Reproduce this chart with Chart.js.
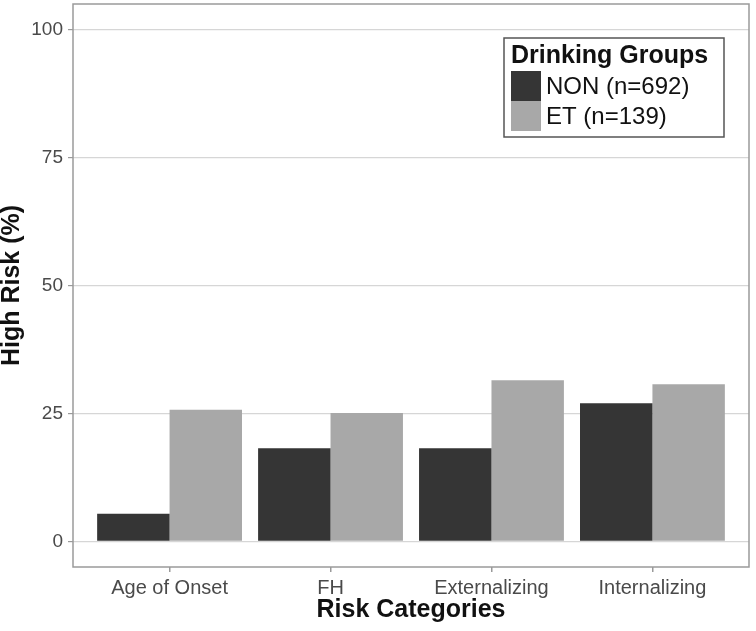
<!DOCTYPE html>
<html>
<head>
<meta charset="utf-8">
<script src="https://cdn.jsdelivr.net/npm/chart.js@4/dist/chart.umd.min.js"></script>
<style>
  html, body { margin: 0; padding: 0; background: #fff; }
  canvas { display: block; }
</style>
</head>
<body>
<canvas id="chart" width="756" height="631"></canvas>
<script>
var categories = ["Age of Onset", "FH", "Externalizing", "Internalizing"];
var groupNames = ["NON (n=692)", "ET (n=139)"];
var nonValues = [5.4, 18.2, 18.2, 27.0];
var etValues = [25.7, 25.1, 31.5, 30.7];
var yTicks = [0, 25, 50, 75, 100];

var FONT = "'Liberation Sans', Arial, Helvetica, sans-serif";

function toPoints(values) {
    return values.map(function(v, i) { return { x: i + 1, y: v }; });
}

// grey frame round the plot, like theme_bw
var frame = {
    id: "frame",
    afterDraw: function(chart) {
        var a = chart.chartArea;
        var ctx = chart.ctx;
        ctx.save();
        ctx.strokeStyle = "#9a9a9a";
        ctx.lineWidth = 1.5;
        ctx.strokeRect(a.left, a.top, a.right - a.left, a.bottom - a.top);
        ctx.restore();
    }
};

// boxed legend inside the plot, top right
var boxLegend = {
    id: "boxLegend",
    afterDraw: function(chart) {
        var ctx = chart.ctx;
        var x = 504, y = 38, w = 220, h = 99;
        ctx.save();
        ctx.fillStyle = "#fff";
        ctx.fillRect(x, y, w, h);
        ctx.strokeStyle = "#555";
        ctx.lineWidth = 1.5;
        ctx.strokeRect(x, y, w, h);

        ctx.fillStyle = "#111";
        ctx.textBaseline = "middle";
        ctx.textAlign = "left";
        ctx.font = "bold 25px " + FONT;
        ctx.fillText("Drinking Groups", 511, 56);

        ctx.font = "24px " + FONT;
        chart.data.datasets.forEach(function(ds, i) {
            var sy = 71 + i * 30;
            ctx.fillStyle = ds.backgroundColor;
            ctx.fillRect(511, sy, 30, 30);
            ctx.fillStyle = "#111";
            ctx.fillText(ds.label, 546, sy + 16);
        });
        ctx.restore();
    }
};

var ctx = document.getElementById("chart").getContext("2d");
var chart = new Chart(ctx, {
    type: "bar",
    data: {
        datasets: [{
            label: groupNames[0],
            data: toPoints(nonValues),
            backgroundColor: "#353535"
        }, {
            label: groupNames[1],
            data: toPoints(etValues),
            backgroundColor: "#a8a8a8"
        }]
    },
    options: {
        responsive: false,
        animation: false,
        layout: { padding: { top: 4, right: 7, left: 0, bottom: 0 } },
        datasets: {
            bar: { barPercentage: 1.0, categoryPercentage: 0.9, borderWidth: 0 }
        },
        plugins: {
            legend: { display: false },
            tooltip: { enabled: false }
        },
        scales: {
            x: {
                type: "linear",
                min: 0.4,
                max: 4.6,
                offset: false,
                afterBuildTicks: function(scale) {
                    scale.ticks = categories.map(function(c, i) { return { value: i + 1 }; });
                },
                afterFit: function(scale) {
                    scale.height = 64;
                    scale.paddingLeft = 0;
                    scale.paddingRight = 0;
                },
                grid: {
                    offset: false,
                    drawOnChartArea: false,
                    tickLength: 5,
                    tickColor: "#9a9a9a",
                    lineWidth: 1.5
                },
                border: { display: false },
                ticks: {
                    padding: 4,
                    color: "#4a4a4a",
                    font: { family: FONT, size: 20 },
                    maxRotation: 0,
                    autoSkip: false,
                    callback: function(value) { return categories[value - 1]; }
                },
                title: {
                    display: true,
                    text: "Risk Categories",
                    color: "#111",
                    font: { family: FONT, size: 25, weight: "bold", lineHeight: 1.0 },
                    padding: { top: 0, bottom: 8 }
                }
            },
            y: {
                min: -5,
                max: 105,
                afterBuildTicks: function(scale) {
                    scale.ticks = yTicks.map(function(v) { return { value: v }; });
                },
                afterFit: function(scale) {
                    scale.width = 73;
                    scale.paddingTop = 0;
                    scale.paddingBottom = 0;
                },
                grid: {
                    color: "#d6d6d6",
                    lineWidth: 1.2,
                    tickLength: 5,
                    tickColor: "#9a9a9a"
                },
                border: { display: false },
                ticks: {
                    padding: 5,
                    color: "#4a4a4a",
                    font: { family: FONT, size: 19 }
                },
                title: {
                    display: true,
                    text: "High Risk (%)",
                    color: "#111",
                    font: { family: FONT, size: 25, weight: "bold", lineHeight: 1.0 },
                    padding: 0
                }
            }
        }
    },
    plugins: [frame, boxLegend]
});
</script>
</body>
</html>
